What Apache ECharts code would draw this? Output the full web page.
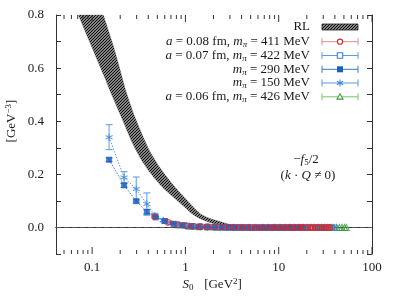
<!DOCTYPE html>
<html><head><meta charset="utf-8">
<script src="https://cdn.jsdelivr.net/npm/echarts@6/dist/echarts.min.js"></script>
<style>html,body{margin:0;padding:0;background:#fff}#c{width:393px;height:296px}</style>
</head><body><div id="c"></div>
<script>
// RL band (lower / upper boundary curves)
const rlLowX = [0.0713,0.085,0.10,0.12,0.14,0.153,0.175,0.20,0.23,0.26,0.296,0.34,0.40,0.46,0.53,0.60,0.70,0.80,0.90,1.00,1.12,1.25,1.40,1.60,1.85,2.2,2.7,3.3,4.0];
const rlLowY = [0.800,0.735,0.677,0.610,0.555,0.520,0.472,0.425,0.375,0.330,0.290,0.252,0.215,0.188,0.163,0.143,0.122,0.104,0.088,0.074,0.057,0.045,0.035,0.026,0.018,0.011,0.006,0.003,0.0015];
const rlUpX = [0.132,0.15,0.17,0.19,0.21,0.226,0.25,0.28,0.32,0.36,0.408,0.46,0.52,0.60,0.70,0.80,0.944,1.1,1.25,1.44,1.65,1.9,2.35,2.8,3.3,4.0,4.6];
const rlUpY = [0.800,0.740,0.680,0.620,0.565,0.522,0.475,0.425,0.375,0.333,0.292,0.260,0.230,0.200,0.170,0.146,0.118,0.093,0.072,0.052,0.040,0.032,0.022,0.014,0.008,0.004,0.0015];

// a=0.08 fm, m_pi=411 MeV
const redX = [0.47,0.65,0.83,1.02,1.22,1.45,1.70,1.98,2.3,2.6,2.95,3.3,3.7,4.1,4.6,5.1,5.6,6.2,6.8,7.4,8.1,8.8,9.6,10.4,11.2,12.1,13.0,14.0,15.0,16.0,17.1,18.2,19.4,20.6,21.9,23.2,24.6,26.0,27.5,29.0,30.6,32.2,34.0,35.8];
const redY = [0.040,0.019,0.010,0.006,0.004,0.003,0.002,0.0015,0.001,0.0008,0.0005,0.0004,0.0003,0.0002,0.0001,0,0,0,0,0,0,0,0,0,0,0,0,0,0,0,0,0,0,0,0,0,0,0,0,0,0,0,0,0];
const redErr = [0.005,0.003,0.002,0.002,0.001,0.001,0.001,0.001,0.001,0.001,0.001,0.001,0.001,0.001,0.001,0.001,0.001,0.001,0.001,0.001,0.001,0.001,0.001,0.001,0.001,0.001,0.001,0.001,0.001,0.001,0.001,0.001,0.001,0.001,0.001,0.001,0.001,0.001,0.001,0.001,0.001,0.001,0.001,0.001];
// a=0.07 fm, m_pi=422 MeV
const blueX = [0.60,0.78,0.98,1.2,1.45,1.75,2.1,2.5,2.9,3.4,3.9,4.5,5.1,5.8,6.5,7.3,8.1,9.0,10.0,11.0,12.1,13.3,14.5,15.8,17.2,18.6,20.1,21.7,23.4,25.1,26.9,28.8,30.8,32.8,35.0,37.2,39.5];
const blueY = [0.024,0.012,0.007,0.004,0.003,0.002,0.001,0.0006,0.0004,0.0002,0,0,0,0,0,0,0,0,0,0,0,0,0,0,0,0,0,0,0,0,0,0,0,0,0,0,0];
// m_pi=290 MeV
const fillX = [0.152,0.22,0.297,0.386,0.48,0.60,0.75,0.93,1.15,1.4,1.7,2.05,2.45,2.9,3.4,4.0,4.7,5.5,6.4,7.4,8.5,9.7,11.0,12.5,14.1,15.8,17.6];
const fillY = [0.255,0.159,0.099,0.059,0.038,0.024,0.014,0.009,0.005,0.003,0.002,0.001,0.0005,0.0003,0,0,0,0,0,0,0,0,0,0,0,0,0];
const fillErr = [0.007,0.008,0.007,0.008,0.004,0.003,0.002,0.002,0.001,0.001,0.001,0.001,0.001,0.001,0.001,0.001,0.001,0.001,0.001,0.001,0.001,0.001,0.001,0.001,0.001,0.001,0.001];
// m_pi=150 MeV
const starX = [0.152,0.22,0.297,0.386,0.47,0.58,0.70,0.85,1.02,1.22,1.45,1.72,2.0,2.35,2.75,3.2,3.7,4.3,5.0,5.8,6.7,7.7,8.8];
const starY = [0.340,0.188,0.145,0.088,0.045,0.027,0.016,0.010,0.006,0.004,0.002,0.001,0.0005,0.0003,0,0,0,0,0,0,0,0,0];
const starErr = [0.047,0.022,0.045,0.042,0.008,0.005,0.004,0.003,0.002,0.002,0.001,0.001,0.001,0.001,0.001,0.001,0.001,0.001,0.001,0.001,0.001,0.001,0.001];
// a=0.06 fm, m_pi=426 MeV
const greenX = [0.85,1.1,1.4,1.75,2.2,2.7,3.3,4.0,4.8,5.7,6.7,7.8,9.0,10.3,11.7,13.2,14.8,16.5,18.3,20.2,22.2,24.3,26.5,28.8,31.2,33.7,36.3,39.0,41.8,44.7,47.7,50.8,53.0];
const greenY = [0.009,0.005,0.003,0.002,0.001,0.0005,0.0003,0,0,0,0,0,0,0,0,0,0,0,0,0,0,0,0,0,0,0,0,0,0,0,0,0,0];

// axis ticks
const xMajorTicks = [0.1,1,10,100];
const xMinorTicks = [0.05,0.06,0.07,0.08,0.09,0.2,0.3,0.4,0.5,0.6,0.7,0.8,0.9,2,3,4,5,6,7,8,9,20,30,40,50,60,70,80,90];

const FONT = "'Liberation Serif','DejaVu Serif',serif";
const TXT = '#1a1a1a';

const pat = document.createElement('canvas');
pat.width = 3; pat.height = 3;
(function(){const c = pat.getContext('2d'); c.strokeStyle = '#111'; c.lineWidth = 1.5; c.beginPath();
 c.moveTo(0,3); c.lineTo(3,0); c.moveTo(-1,1); c.lineTo(1,-1); c.moveTo(2,4); c.lineTo(4,2); c.stroke();})();
const hatch = {image: pat, repeat: 'repeat'};

const zip = (xs, ys) => xs.map((x,i)=>[x, ys[i]]);
const zipErr = (xs, ys, es) => xs.map((x,i)=>[x, ys[i]-es[i], ys[i]+es[i]]);

function errSeries(data, color, z) {
  return {type:'custom', z:z, silent:true, data:data, encode:{x:0, y:[1,2]},
    renderItem:(p, api)=>{
      const x = api.value(0), lo = api.coord([x, api.value(1)]), hi = api.coord([x, api.value(2)]);
      const st = {stroke: color, lineWidth: 1};
      return {type:'group', children:[
        {type:'line', shape:{x1:lo[0], y1:lo[1], x2:hi[0], y2:hi[1]}, style:st},
        {type:'line', shape:{x1:lo[0]-3.5, y1:lo[1], x2:lo[0]+3.5, y2:lo[1]}, style:st},
        {type:'line', shape:{x1:hi[0]-3.5, y1:hi[1], x2:hi[0]+3.5, y2:hi[1]}, style:st}
      ]};
    }};
}

const C = {
  red:'#d3262d', redL:'#e48a8d',
  blue:'#3a7fd5', blueL:'#5d9be3',
  fill:'#1d5fbf', fillL:'#3a78c8',
  star:'#3f86d8', starL:'#5b9be0',
  green:'#3b9a3b', greenL:'#7cc070'
};

const rich = {
  i:{fontFamily:FONT, fontStyle:'italic', fontSize:13, color:TXT},
  s:{fontFamily:FONT, fontStyle:'italic', fontSize:9, padding:[6,0,0,0], color:TXT},
  n:{fontFamily:FONT, fontSize:9, padding:[6,0,0,0], color:TXT},
  sup:{fontFamily:FONT, fontSize:9, padding:[0,0,6,0], color:TXT}
};
function txt(x, y, text, align, rot) {
  return {type:'text', x:x, y:y, rotation: rot||0, z:50,
    style:{text:text, rich:rich, fill:TXT, font:'13px '+FONT, align:align||'center', verticalAlign:'middle'}};
}
const legendRows = [
  {y:41.7, text:'{i|a} = 0.08 fm, {i|m}{s|π} = 411 MeV', line:C.redL, mk:'circle', col:C.red},
  {y:55.5, text:'{i|a} = 0.07 fm, {i|m}{s|π} = 422 MeV', line:C.blueL, mk:'square', col:C.blue},
  {y:69.3, text:'{i|m}{s|π} = 290 MeV', line:C.fillL, mk:'fsquare', col:C.fill},
  {y:83.0, text:'{i|m}{s|π} = 150 MeV', line:C.starL, mk:'star', col:C.star},
  {y:96.8, text:'{i|a} = 0.06 fm, {i|m}{s|π} = 426 MeV', line:C.greenL, mk:'tri', col:C.green}
];
const graphics = [];
graphics.push(txt(310, 27, 'RL', 'right'));
graphics.push({type:'rect', shape:{x:322, y:24, width:36, height:6}, style:{fill:hatch, stroke:'#222', lineWidth:0.8}, z:50});
legendRows.forEach(r=>{
  graphics.push(txt(310, r.y, r.text, 'right'));
  const st = {stroke:r.line, lineWidth:1};
  graphics.push({type:'line', shape:{x1:322,y1:r.y,x2:358,y2:r.y}, style:st, z:50});
  graphics.push({type:'line', shape:{x1:322,y1:r.y-3.5,x2:322,y2:r.y+3.5}, style:st, z:50});
  graphics.push({type:'line', shape:{x1:358,y1:r.y-3.5,x2:358,y2:r.y+3.5}, style:st, z:50});
  const ms = {stroke:r.col, lineWidth:1.1, fill:'#fff'};
  if (r.mk==='circle') graphics.push({type:'circle', shape:{cx:340, cy:r.y, r:2.6}, style:ms, z:51});
  if (r.mk==='square') graphics.push({type:'rect', shape:{x:337.3, y:r.y-2.7, width:5.4, height:5.4}, style:ms, z:51});
  if (r.mk==='fsquare') graphics.push({type:'rect', shape:{x:337, y:r.y-3, width:6, height:6}, style:{fill:r.col}, z:51});
  if (r.mk==='star') {
    const ss = {stroke:r.col, lineWidth:1.1};
    graphics.push({type:'line', shape:{x1:340,y1:r.y-3.5,x2:340,y2:r.y+3.5}, style:ss, z:51});
    graphics.push({type:'line', shape:{x1:337,y1:r.y-1.8,x2:343,y2:r.y+1.8}, style:ss, z:51});
    graphics.push({type:'line', shape:{x1:337,y1:r.y+1.8,x2:343,y2:r.y-1.8}, style:ss, z:51});
  }
  if (r.mk==='tri') graphics.push({type:'polygon', shape:{points:[[340,r.y-3],[337,r.y+2.3],[343,r.y+2.3]]}, style:ms, z:51});
});
graphics.push(txt(306, 160, '−{i|f}{n|5}/2', 'center'));
graphics.push(txt(308, 176, '({i|k} · {i|Q} ≠ 0)', 'center'));
graphics.push(txt(188, 285, '{i|S}{n|0}', 'center'));
graphics.push(txt(223, 285, '[GeV{sup|2}]', 'center'));
graphics.push(txt(12, 121, '[GeV{sup|−3}]', 'center', Math.PI/2));

const STAR = 'path://M0,-5L0,5M-4.3,-2.5L4.3,2.5M-4.3,2.5L4.3,-2.5';

const chart = echarts.init(document.getElementById('c'), null, {renderer:'canvas'});
chart.setOption({
  animation:false,
  backgroundColor:'#fff',
  grid:{left:56, right:21, top:15, bottom:42},
  xAxis:[
    {type:'log', logBase:10, min:0.041, max:100, splitLine:{show:false},
     axisLine:{lineStyle:{color:'#333', width:1}}, axisTick:{show:false},
     axisLabel:{fontFamily:FONT, fontSize:13, color:TXT, margin:7,
       formatter:v=>{const l=Math.log10(v); return Math.abs(l-Math.round(l))<1e-6 ? String(Math.pow(10,Math.round(l))) : '';}}},
    {type:'log', logBase:10, min:0.041, max:100, position:'top', splitLine:{show:false},
     axisLine:{lineStyle:{color:'#333', width:1}}, axisTick:{show:false}, axisLabel:{show:false}}
  ],
  yAxis:[
    {type:'value', min:-0.1, max:0.8, interval:0.1, splitLine:{show:false},
     axisLine:{lineStyle:{color:'#333', width:1}}, axisTick:{inside:true, length:5, lineStyle:{color:'#333'}},
     axisLabel:{fontFamily:FONT, fontSize:13, color:TXT, margin:12,
       formatter:v=>{const k=Math.round(v*10); return (k>=0 && k%2===0) ? (k/10).toFixed(1) : '';}}},
    {type:'value', min:-0.1, max:0.8, interval:0.1, position:'right', splitLine:{show:false},
     axisLine:{lineStyle:{color:'#333', width:1}}, axisTick:{inside:true, length:5, lineStyle:{color:'#333'}},
     axisLabel:{show:false}}
  ],
  graphic: graphics,
  series:[
    {type:'custom', silent:true, z:20, data: xMajorTicks.map(v=>[v,7]).concat(xMinorTicks.map(v=>[v,4])), encode:{x:0},
     renderItem:(p, api)=>{
       const v = api.value(0), L = api.value(1);
       const b = api.coord([v,-0.1]), t = api.coord([v,0.8]);
       const st = {stroke:'#333', lineWidth:1};
       return {type:'group', children:[
         {type:'line', shape:{x1:b[0], y1:b[1], x2:b[0], y2:b[1]-L}, style:st},
         {type:'line', shape:{x1:t[0], y1:t[1], x2:t[0], y2:t[1]+L}, style:st}]};
     }},
    {type:'custom', silent:true, z:2, data:[[1,0]], encode:{x:0,y:1},
     renderItem:(p, api)=>{
       const pts = [];
       rlLowX.forEach((x,i)=>pts.push(api.coord([x, rlLowY[i]])));
       for (let i=rlUpX.length-1;i>=0;i--) pts.push(api.coord([rlUpX[i], rlUpY[i]]));
       return {type:'polygon', shape:{points:pts}, style:{fill:hatch, stroke:'#555', lineWidth:0.3}};
     }},
    {type:'line', data:[], z:1, markLine:{silent:true, symbol:'none', label:{show:false},
      lineStyle:{type:[5,3], color:'#555', width:1}, data:[{yAxis:0}]}},
    {type:'line', data:zip(starX, starY), showSymbol:false, z:3, lineStyle:{type:[1.5,1.5], width:1, color:C.starL}},
    {type:'line', data:zip(fillX, fillY), showSymbol:false, z:3, lineStyle:{type:[1.5,1.5], width:1, color:C.fillL}},
    errSeries(zipErr(starX, starY, starErr), C.starL, 4),
    errSeries(zipErr(fillX, fillY, fillErr), C.fillL, 4),
    errSeries(zipErr(redX, redY, redErr), C.redL, 4),
    {type:'scatter', data:zip(greenX, greenY), symbol:'triangle', symbolSize:6, z:5,
     itemStyle:{color:'rgba(255,255,255,0)', borderColor:C.green, borderWidth:1.1}},
    {type:'scatter', data:zip(blueX, blueY), symbol:'rect', symbolSize:5, z:6,
     itemStyle:{color:'rgba(255,255,255,0)', borderColor:C.blue, borderWidth:1.1}},
    {type:'scatter', data:zip(starX, starY), symbol:STAR, symbolSize:7, z:7,
     itemStyle:{color:'rgba(0,0,0,0)', borderColor:C.star, borderWidth:1.1}},
    {type:'scatter', data:zip(fillX, fillY), symbol:'rect', symbolSize:6, z:8,
     itemStyle:{color:C.fill}},
    {type:'scatter', data:zip(redX, redY), symbol:'circle', symbolSize:5.5, z:9,
     itemStyle:{color:'rgba(255,255,255,0)', borderColor:C.red, borderWidth:1.1}}
  ]
});
</script></body></html>
